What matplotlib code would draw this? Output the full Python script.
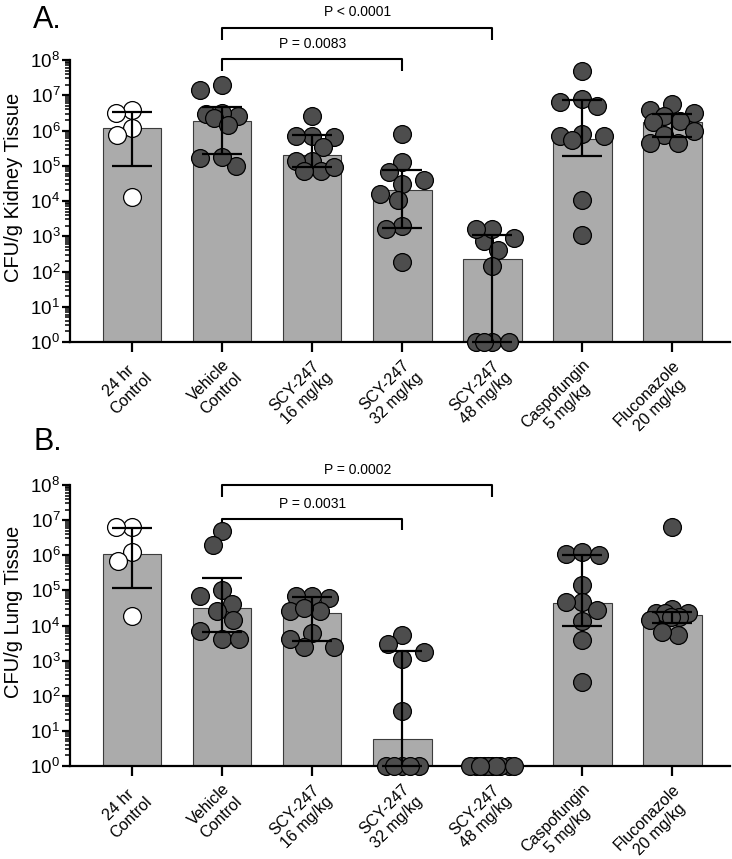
import numpy as np
import matplotlib
matplotlib.use('Agg')
import matplotlib.pyplot as plt
from matplotlib.ticker import LogLocator, FuncFormatter
from matplotlib.transforms import ScaledTranslation

plt.rcParams['font.family'] = ['Liberation Sans', 'DejaVu Sans']
plt.rcParams['mathtext.fontset'] = 'custom'
plt.rcParams['mathtext.rm'] = 'Liberation Sans'
plt.rcParams['mathtext.it'] = 'Liberation Sans'

# ---------------- data ----------------
groups = ["24 hr\nControl", "Vehicle\nControl", "SCY-247\n16 mg/kg", "SCY-247\n32 mg/kg",
          "SCY-247\n48 mg/kg", "Caspofungin\n5 mg/kg", "Fluconazole\n20 mg/kg"]

kidney_points = [
    [3.9e6, 3.2e6, 1.2e6, 7.6e5, 1.3e4],
    [1.9e7, 1.4e7, 3.0e6, 2.5e6, 3.2e6, 2.3e6, 1.4e6, 1.0e5, 1.8e5, 1.7e5],
    [2.5e6, 7.1e5, 6.6e5, 6.9e5, 3.5e5, 1.4e5, 1.4e5, 6.9e4, 9.5e4, 6.9e4],
    [7.9e5, 1.3e5, 6.8e4, 3.1e4, 4.0e4, 1.6e4, 1.1e4, 1.9e3, 1.6e3, 190],
    [740, 890, 1.6e3, 1.6e3, 410, 145, 1, 1, 1, 1],
    [5.0e7, 6.6e6, 7.9e6, 4.8e6, 7.1e5, 7.9e5, 5.5e5, 7.1e5, 1.1e4, 1.1e3],
    [3.9e6, 5.8e6, 2.5e6, 3.2e6, 1.7e6, 1.9e6, 1.0e6, 7.6e5, 4.5e5, 4.5e5],
]
kidney_median = [1.2e6, 1.9e6, 2.0e5, 2.1e4, 230, 5.6e5, 1.7e6]
kidney_err_low = [1.0e5, 2.2e5, 9.3e4, 1.7e3, 1, 1.9e5, 6.6e5]
kidney_err_high = [3.4e6, 4.7e6, 7.6e5, 7.8e4, 1.1e3, 7.1e6, 3.0e6]

lung_points = [
    [6.5e6, 6.5e6, 1.2e6, 6.9e5, 1.9e4],
    [5.0e6, 2.0e6, 6.9e4, 1.0e5, 4.1e4, 2.6e4, 1.4e4, 4.2e3, 7.0e3, 4.2e3],
    [6.1e4, 6.9e4, 6.9e4, 2.6e4, 2.6e4, 3.2e4, 6.2e3, 2.5e3, 2.5e3, 4.2e3],
    [5.4e3, 3.0e3, 1.8e3, 1.1e3, 37, 1, 1, 1, 1, 1],
    [1, 1, 1, 1, 1, 1, 1, 1, 1, 1],
    [1.1e6, 1.2e6, 1.0e6, 1.4e5, 4.7e4, 2.8e4, 4.7e4, 1.3e4, 3.9e3, 250],
    [6.5e6, 3.0e4, 2.3e4, 2.3e4, 2.3e4, 1.8e4, 1.8e4, 1.4e4, 5.4e3, 6.6e3],
]
lung_median = [1.1e6, 3.2e4, 2.3e4, 5.9, 1, 4.4e4, 2.0e4]
lung_err_low = [1.2e5, 6.6e3, 3.6e3, 1, 1, 9.8e3, 1.2e4]
lung_err_high = [6.0e6, 2.3e5, 6.5e4, 1.9e3, 1, 1.0e6, 2.5e4]

kidney_pvalues = [("P = 0.0083", 1, 3), ("P < 0.0001", 1, 4)]
lung_pvalues = [("P = 0.0031", 1, 3), ("P = 0.0002", 1, 4)]

# ---------------- styling ----------------
W, H, DPI = 7.32, 8.59, 100
fig = plt.figure(figsize=(W, H), dpi=DPI)
FW, FH = W * DPI, H * DPI

XMIN, XMAX = -0.69, 6.64
BAR_W = 0.65
BAR_COLOR = '#ababab'
DOT_COLOR = '#4d4d4d'
MS = 165
DIAM_PX = 16.5
MAXW_PX = 22


def swarm_offsets(vals, px_decade, diam, maxw):
    ys = np.log10(np.asarray(vals, float)) * px_decade
    order = np.argsort(-ys, kind='stable')
    xs = np.zeros(len(ys))
    placed = []
    for i in order:
        y = ys[i]
        neigh = [(xj, yj) for xj, yj in placed if abs(yj - y) < diam]
        cands = [0.0]
        for xj, yj in neigh:
            dx = np.sqrt(diam ** 2 - (yj - y) ** 2)
            cands += [xj - dx, xj + dx]
        cands = sorted(set(np.round(cands, 6)), key=lambda c: (abs(c), c))
        chosen = None
        for c in cands:
            if abs(c) > maxw + 1e-9:
                continue
            if all((c - xj) ** 2 + (y - yj) ** 2 >= diam ** 2 - 1e-6 for xj, yj in neigh):
                chosen = c
                break
        if chosen is None:
            grid = np.linspace(-maxw, maxw, 89)
            def mind(c):
                return min(np.hypot(c - xj, y - yj) for xj, yj in neigh)
            chosen = max(grid, key=lambda c: (round(mind(c), 3), -abs(c)))
        xs[i] = chosen
        placed.append((chosen, y))
    return xs


def draw_panel(ax, points, median, lo, hi, ylabel, pvals, br_levels, letter, letter_y):
    pos = np.arange(len(groups))
    ax.set_yscale('log')
    ax.set_ylim(1, 1e8)
    ax.set_xlim(XMIN, XMAX)
    bb = ax.get_position()
    px_x = bb.width * FW / (XMAX - XMIN)
    px_dec = bb.height * FH / 8.0

    ax.bar(pos, median, width=BAR_W, color=BAR_COLOR, edgecolor='#3c3c3c',
           linewidth=0.8, zorder=1)

    for i, vals in enumerate(points):
        offs = swarm_offsets(vals, px_dec, DIAM_PX, MAXW_PX) / px_x
        face = 'white' if i == 0 else DOT_COLOR
        ax.scatter(pos[i] + offs, vals, s=MS, facecolor=face, edgecolor='black',
                   linewidth=0.9, zorder=3, clip_on=False)

    med = np.array(median, float)
    lo = np.array(lo, float)
    hi = np.array(hi, float)
    keep = hi > lo
    ax.errorbar(pos[keep], med[keep], yerr=[med[keep] - lo[keep], hi[keep] - med[keep]],
                fmt='none', ecolor='black', elinewidth=1.6, capsize=14.2,
                capthick=1.6, zorder=4, clip_on=False)

    for (txt, a, b), (ytop, ytip, ytxt) in zip(pvals, br_levels):
        ax.plot([a, a, b, b], [10 ** ytip, 10 ** ytop, 10 ** ytop, 10 ** ytip],
                color='black', lw=1.5, clip_on=False, solid_capstyle='butt')
        ax.text((a + b) / 2, 10 ** ytxt, txt, ha='center', va='center', fontsize=10)

    for s in ['top', 'right']:
        ax.spines[s].set_visible(False)
    for s in ['left', 'bottom']:
        ax.spines[s].set_linewidth(1.6)

    ax.yaxis.set_major_locator(LogLocator(base=10, numticks=20))
    ax.yaxis.set_minor_locator(LogLocator(base=10, subs=np.arange(2, 10), numticks=20))
    ax.yaxis.set_major_formatter(FuncFormatter(lambda v, p: r'$\mathregular{10^{%d}}$' % round(np.log10(v))))
    ax.tick_params(axis='y', which='major', length=6, width=1.6, labelsize=13.5, pad=1)
    ax.tick_params(axis='y', which='minor', length=3.5, width=1.1)
    ax.set_xticks(pos)
    labels = ax.set_xticklabels(groups, rotation=45, ha='right', va='top',
                                rotation_mode='anchor', multialignment='center', fontsize=11.5)
    shift = ScaledTranslation(-6 / DPI, 8 / DPI, fig.dpi_scale_trans)
    for lab in labels:
        lab.set_transform(lab.get_transform() + shift)
    ax.tick_params(axis='x', length=7, width=1.6, pad=4)
    ax.set_ylabel(ylabel, fontsize=14.5)
    ax.yaxis.set_label_coords(-0.071, 0.55)
    fig.text(33 / FW, letter_y, letter, fontsize=22, ha='left', va='baseline')


axA = fig.add_axes([70 / FW, 1 - 342 / FH, 660 / FW, 282 / FH])
axB = fig.add_axes([70 / FW, 1 - 766 / FH, 660 / FW, 281 / FH])

draw_panel(axA, kidney_points, kidney_median, kidney_err_low, kidney_err_high,
           'CFU/g Kidney Tissue', kidney_pvalues,
           [(8.04, 7.70, 8.44), (8.92, 8.58, 9.35)], 'A.', 1 - 28 / FH)
draw_panel(axB, lung_points, lung_median, lung_err_low, lung_err_high,
           'CFU/g Lung Tissue', lung_pvalues,
           [(7.04, 6.72, 7.46), (8.0, 7.66, 8.43)], 'B.', 1 - 450 / FH)

fig.savefig('out.png', dpi=DPI)
